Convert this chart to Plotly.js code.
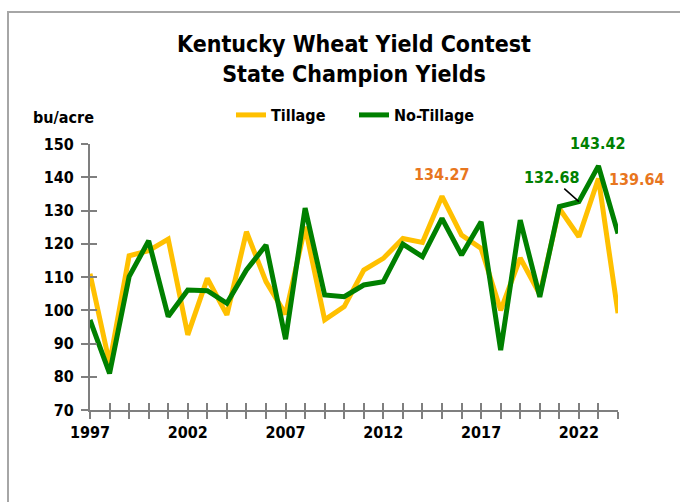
<!DOCTYPE html>
<html>
<head>
<meta charset="utf-8">
<script src="https://cdn.plot.ly/plotly-3.0.1.min.js"></script>
<style>
  html, body { margin: 0; padding: 0; background: #fff; }
  #frame { position: absolute; left: 7px; top: 11px; width: 700px; height: 520px;
           border-left: 2px solid #a6a6a6; border-top: 2px solid #a6a6a6; }
  #chart { position: absolute; left: 0; top: 0; width: 680px; height: 502px; }
</style>
</head>
<body>
<div id="frame"></div>
<div id="chart"></div>
<script>
const years = [1997,1998,1999,2000,2001,2002,2003,2004,2005,2006,2007,2008,2009,2010,
               2011,2012,2013,2014,2015,2016,2017,2018,2019,2020,2021,2022,2023,2024];
const tillage = [111.0, 84.0, 116.4, 117.9, 121.4, 92.6, 109.6, 98.6, 123.6, 108.6, 98.8, 125.1,
                 97.1, 101.1, 112.1, 115.6, 121.6, 120.4, 134.27, 122.6, 118.6, 100.0, 115.7, 104.8,
                 130.6, 122.1, 139.64, 99.1];
const noTillage = [97.1, 81.0, 110.1, 120.9, 98.1, 106.1, 105.9, 102.1, 112.1, 119.6, 91.3, 130.7,
                   104.6, 104.1, 107.6, 108.6, 119.9, 116.1, 127.6, 116.6, 126.6, 88.0, 127.1, 104.0,
                   131.2, 132.68, 143.42, 123.1];
const xTickVals = years;
const xTickLabels = years.map(y => ((y - 1997) % 5 === 0) ? String(y) : '');
const yTickVals = [70, 80, 90, 100, 110, 120, 130, 140, 150];

const FONT = '"DejaVu Sans Condensed", "Liberation Sans Narrow", Arial, sans-serif';
const YELLOW = '#FFC000';
const GREEN = '#008000';
const ORANGE = '#E8761E';
const AXIS = '#7f7f7f';

const traces = [
  { x: years, y: tillage, name: 'Tillage', type: 'scatter', mode: 'lines',
    line: { color: YELLOW, width: 5 }, xaxis: 'x', yaxis: 'y' },
  { x: years, y: noTillage, name: 'No-Tillage', type: 'scatter', mode: 'lines',
    line: { color: GREEN, width: 5 }, xaxis: 'x2', yaxis: 'y2' }
];

const baseX = { range: [1997, 2024], tickmode: 'array', tickvals: xTickVals,
  showgrid: false, zeroline: false, showline: true, linecolor: AXIS, linewidth: 2,
  tickcolor: AXIS, tickwidth: 2, ticklen: 7, fixedrange: true };
const baseY = { range: [70, 150], tickmode: 'array', tickvals: yTickVals,
  showgrid: false, zeroline: false, showline: true, linecolor: AXIS, linewidth: 2,
  tickcolor: AXIS, tickwidth: 2, ticklen: 7, fixedrange: true };

const i15 = years.indexOf(2015), i22 = years.indexOf(2022), i23 = years.indexOf(2023);
const annFont = (c) => ({ family: FONT, size: 16, color: c, weight: 'bold' });
const tickFont = { family: FONT, size: 16, color: '#000', weight: 'bold' };

const layout = {
  width: 680, height: 502,
  margin: { l: 90, r: 62, t: 144, b: 92 },
  paper_bgcolor: 'rgba(0,0,0,0)', plot_bgcolor: 'rgba(0,0,0,0)',
  font: { family: FONT, size: 16, color: '#000' },
  title: { text: '<b>Kentucky Wheat Yield Contest<br>State Champion Yields</b>',
    font: { family: FONT, size: 23, color: '#000' },
    x: 0.5, xanchor: 'center', xref: 'paper', y: 1 - 52 / 502, yref: 'container', yanchor: 'top' },
  showlegend: true,
  legend: { orientation: 'h', x: 0.5, xanchor: 'center', y: 1.109, yanchor: 'middle',
    font: { family: FONT, size: 16, color: '#000', weight: 'bold' },
    itemwidth: 30, entrywidth: 78, bgcolor: 'rgba(0,0,0,0)' },
  xaxis: Object.assign({}, baseX, { ticks: 'outside', ticktext: xTickLabels, tickfont: tickFont }),
  yaxis: Object.assign({}, baseY, { ticks: 'outside', ticktext: yTickVals.map(String),
    tickfont: tickFont, ticklabelstandoff: 4 }),
  xaxis2: Object.assign({}, baseX, { ticks: 'inside', overlaying: 'x', anchor: 'y2', showticklabels: false }),
  yaxis2: Object.assign({}, baseY, { ticks: 'inside', overlaying: 'y', anchor: 'x2', showticklabels: false }),
  annotations: [
    { text: '<b>bu/acre</b>', xref: 'paper', yref: 'paper', x: -0.051, y: 1.098,
      xanchor: 'center', yanchor: 'middle', showarrow: false, font: annFont('#000') },
    { text: '<b>' + tillage[i15].toFixed(2) + '</b>', xref: 'x', yref: 'y', x: years[i15], y: tillage[i15],
      showarrow: false, yshift: 22, xanchor: 'center', yanchor: 'middle', font: annFont(ORANGE) },
    { text: '<b>' + noTillage[i23].toFixed(2) + '</b>', xref: 'x', yref: 'y', x: years[i23], y: noTillage[i23],
      showarrow: false, yshift: 22, xanchor: 'center', yanchor: 'middle', font: annFont(GREEN) },
    { text: '<b>' + tillage[i23].toFixed(2) + '</b>', xref: 'x', yref: 'y', x: years[i23], y: tillage[i23],
      showarrow: false, xshift: 39, yshift: -1, xanchor: 'center', yanchor: 'middle', font: annFont(ORANGE) },
    { text: '<b>' + noTillage[i22].toFixed(2) + '</b>', xref: 'x', yref: 'y', x: years[i22], y: noTillage[i22],
      showarrow: true, arrowhead: 0, arrowwidth: 1.5, arrowcolor: '#000', ax: -27, ay: -24,
      standoff: 0, font: annFont(GREEN) }
  ]
};

Plotly.newPlot('chart', traces, layout, { staticPlot: true, displayModeBar: false });
</script>
</body>
</html>
